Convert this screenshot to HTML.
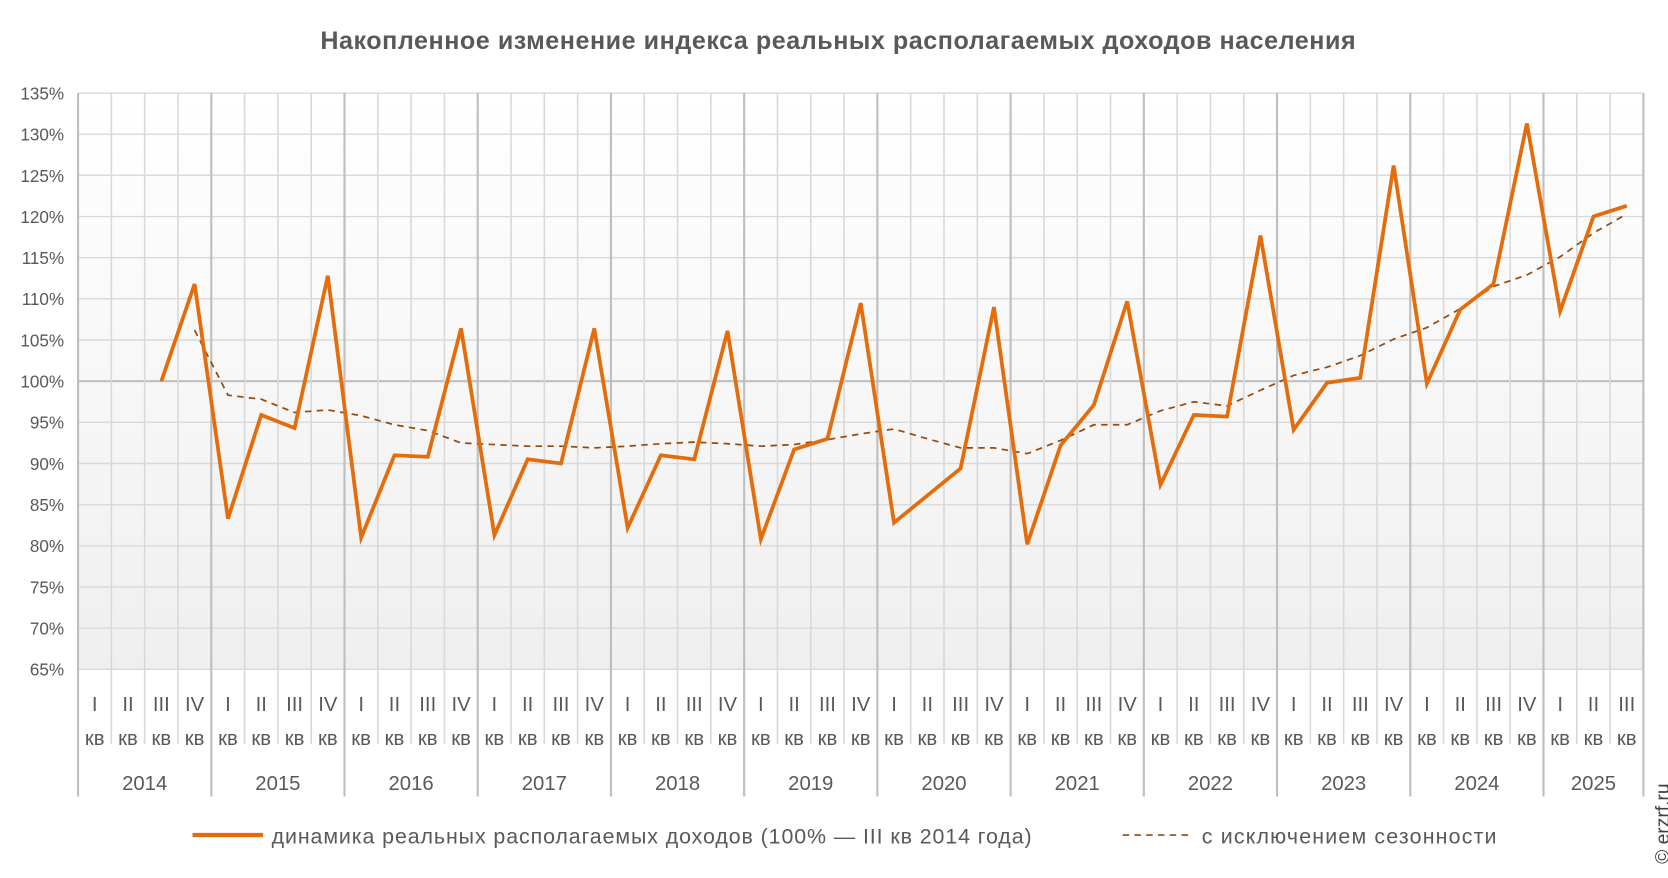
<!DOCTYPE html>
<html><head><meta charset="utf-8"><style>
body{margin:0;background:#fff;font-family:"Liberation Sans","DejaVu Sans",sans-serif;}
svg text{font-family:"Liberation Sans","DejaVu Sans",sans-serif;fill:#595959;}
</style></head><body>
<svg id="chart" width="1668" height="873" viewBox="0 0 1560 816.5" preserveAspectRatio="none" xmlns="http://www.w3.org/2000/svg">
<defs><linearGradient id="bg" x1="0" y1="0" x2="0" y2="1"><stop offset="0" stop-color="#ffffff"/><stop offset="1" stop-color="#efefef"/></linearGradient></defs>
<text x="784" y="46" text-anchor="middle" font-size="23.5" font-weight="bold" letter-spacing="0.5" style="fill:#595959">Накопленное изменение индекса реальных располагаемых доходов населения</text>
<rect x="73" y="87" width="1464" height="539" fill="url(#bg)"/>
<g id="grid"></g><g id="cats"></g><g id="series"></g>
<g>
<line x1="180" y1="781" x2="246" y2="781" stroke="#e46c0a" stroke-width="4"/>
<text x="254" y="789" font-size="20" letter-spacing="0.85">динамика реальных располагаемых доходов (100% — III кв 2014 года)</text>
<line x1="1050" y1="781" x2="1115" y2="781" stroke="#984807" stroke-width="1.6" stroke-dasharray="6,5"/>
<text x="1124" y="789" font-size="20" letter-spacing="1.1">с исключением сезонности</text>
</g>
<text transform="translate(1561,808) rotate(-90)" font-size="18" style="fill:#404040">© erzrf.ru</text>
</svg>
<script>
const years=["2014","2015","2016","2017","2018","2019","2020","2021","2022","2023","2024","2025"];
const quarters=["I","II","III","IV"];
const yTicks=[65,70,75,80,85,90,95,100,105,110,115,120,125,130,135];
const mainValues=[null,null,100,111.8,83.3,95.9,94.3,112.8,81,91,90.8,106.4,81.3,90.5,90,106.4,82.2,91,90.5,106.1,80.8,91.7,93,109.5,82.8,86.1,89.4,109,80.2,92.2,97.1,109.7,87.4,95.9,95.7,117.7,94.1,99.8,100.4,126.2,99.7,108.7,111.8,131.3,108.5,120,121.3];
const seasonalValues=[null,null,null,106.2,98.3,97.8,96.2,96.5,95.8,94.7,94,92.5,92.3,92.1,92.1,91.9,92.1,92.4,92.6,92.4,92.1,92.3,92.9,93.6,94.2,93,91.9,91.9,91.2,92.8,94.7,94.7,96.4,97.5,97,98.9,100.7,101.7,103.1,105.1,106.5,108.8,111.5,112.9,115.1,118,120.3];
const N=mainValues.length,X0=73,X1=1537,Y0=626,Y1=87,cw=(X1-X0)/N;
const xc=i=>X0+(i+0.5)*cw, y=v=>Y0-(v-65)/(135-65)*(Y0-Y1);
const NS="http://www.w3.org/2000/svg";
function mk(t,a,p){const e=document.createElementNS(NS,t);for(const k in a)e.setAttribute(k,a[k]);p.appendChild(e);return e;}
const grid=document.getElementById('grid'),cats=document.getElementById('cats'),ser=document.getElementById('series');
yTicks.forEach(v=>{
 const l=mk('line',{x1:X0,x2:X1,y1:y(v),y2:y(v),stroke:v==100?'#bfbfbf':'#d9d9d9','stroke-width':v==100?2:1.3},grid);
 
 
 const t=mk('text',{x:60,y:y(v)+6,'text-anchor':'end','font-size':16},grid);t.textContent=v+'%';
 
 
});
for(let i=0;i<=N;i++){
 const x=X0+i*cw, yr=(i%4===0)||i===N;
 const l=mk('line',{x1:x,x2:x,y1:Y1,y2:yr?745:696,stroke:yr?'#bfbfbf':'#d9d9d9','stroke-width':yr?2:1.5},grid);
 
 
}
for(let i=0;i<N;i++){
 const t=mk('text',{x:xc(i),y:665,'text-anchor':'middle','font-size':19},cats);t.textContent=quarters[i%4];
 
 
 const k=mk('text',{x:xc(i),y:697,'text-anchor':'middle','font-size':19},cats);k.textContent='кв';
 
 
}
years.forEach((yr,j)=>{
 const s=j*4,e=Math.min(s+4,N);
 const t=mk('text',{x:X0+(s+e)/2*cw,y:739,'text-anchor':'middle','font-size':19},cats);t.textContent=yr;
 
 
});
function path(vals){let d='';vals.forEach((v,i)=>{if(v==null)return;d+=(d?'L':'M')+xc(i).toFixed(1)+','+y(v).toFixed(1);});return d;}
const p2=mk('path',{d:path(seasonalValues),fill:'none',stroke:'#984807','stroke-width':1.6,'stroke-dasharray':'6,5'},ser);


const p1=mk('path',{d:path(mainValues),fill:'none',stroke:'#e46c0a','stroke-width':3.5,'stroke-linejoin':'miter'},ser);


</script>
</body></html>
